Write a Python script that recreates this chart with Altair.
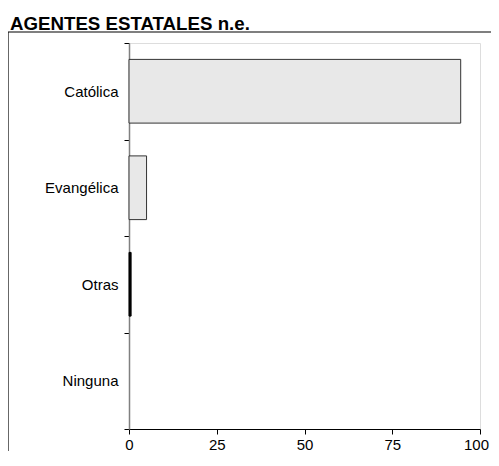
import altair as alt
import pandas as pd

categories = ["Católica", "Evangélica", "Otras", "Ninguna"]
values = [94.5, 5.0, 0.6, 0.0]
fills = ["#e8e8e8", "#e8e8e8", "#000000", "#e8e8e8"]
strokes = ["#333333", "#333333", "#000000", "transparent"]
x_ticks = [0, 25, 50, 75, 100]
title_text = "AGENTES ESTATALES n.e."

df = pd.DataFrame({"cat": categories, "val": values, "fill": fills, "stroke": strokes})

FONT = "Liberation Sans"

bars = alt.Chart(df).mark_bar(strokeWidth=1, height={"band": 0.66}).encode(
    y=alt.Y("cat:N", sort=categories, title=None,
            scale=alt.Scale(paddingInner=0, paddingOuter=0),
            axis=alt.Axis(tickBand="extent", domainColor="#808080", domainWidth=1.5,
                          tickColor="#000000", tickSize=5, labelPadding=6,
                          labelFontSize=15, labelFont=FONT, labelColor="#000000")),
    x=alt.X("val:Q", title=None,
            scale=alt.Scale(domain=[0, 100], nice=False),
            axis=alt.Axis(values=x_ticks, grid=False, domainColor="#000000",
                          tickColor="#000000", tickSize=5, labelPadding=3,
                          labelFontSize=15, labelFont=FONT, labelColor="#000000",
                          labelFlush=False,
                          labelOffset={"condition": {"test": "datum.value === 100", "value": -4},
                                       "value": 0})),
    fill=alt.Fill("fill:N", scale=None),
    stroke=alt.Stroke("stroke:N", scale=None),
)

top_line = alt.Chart(alt.Data(values=[{}])).mark_rule(
    stroke="#000000", strokeWidth=1.2
).encode(x=alt.value(-121), x2=alt.value(366), y=alt.value(-11))

left_line = alt.Chart(alt.Data(values=[{}])).mark_rule(
    stroke="#000000", strokeWidth=1.2
).encode(x=alt.value(-121), y=alt.value(-11), y2=alt.value(408))

chart = alt.layer(top_line, left_line, bars).properties(
    width=351, height=386,
    autosize=alt.AutoSizeParams(type="none"),
    padding={"left": 121, "top": 35, "right": 11, "bottom": 22},
    title=alt.TitleParams(title_text, anchor="start", frame="group", dx=-119, dy=19,
                          fontSize=18.7, font=FONT, fontWeight="bold",
                          color="#000000", offset=17),
).configure_view(stroke=None).configure(background="white")

chart.save("out.html", embed_options={"renderer": "svg", "actions": False})
